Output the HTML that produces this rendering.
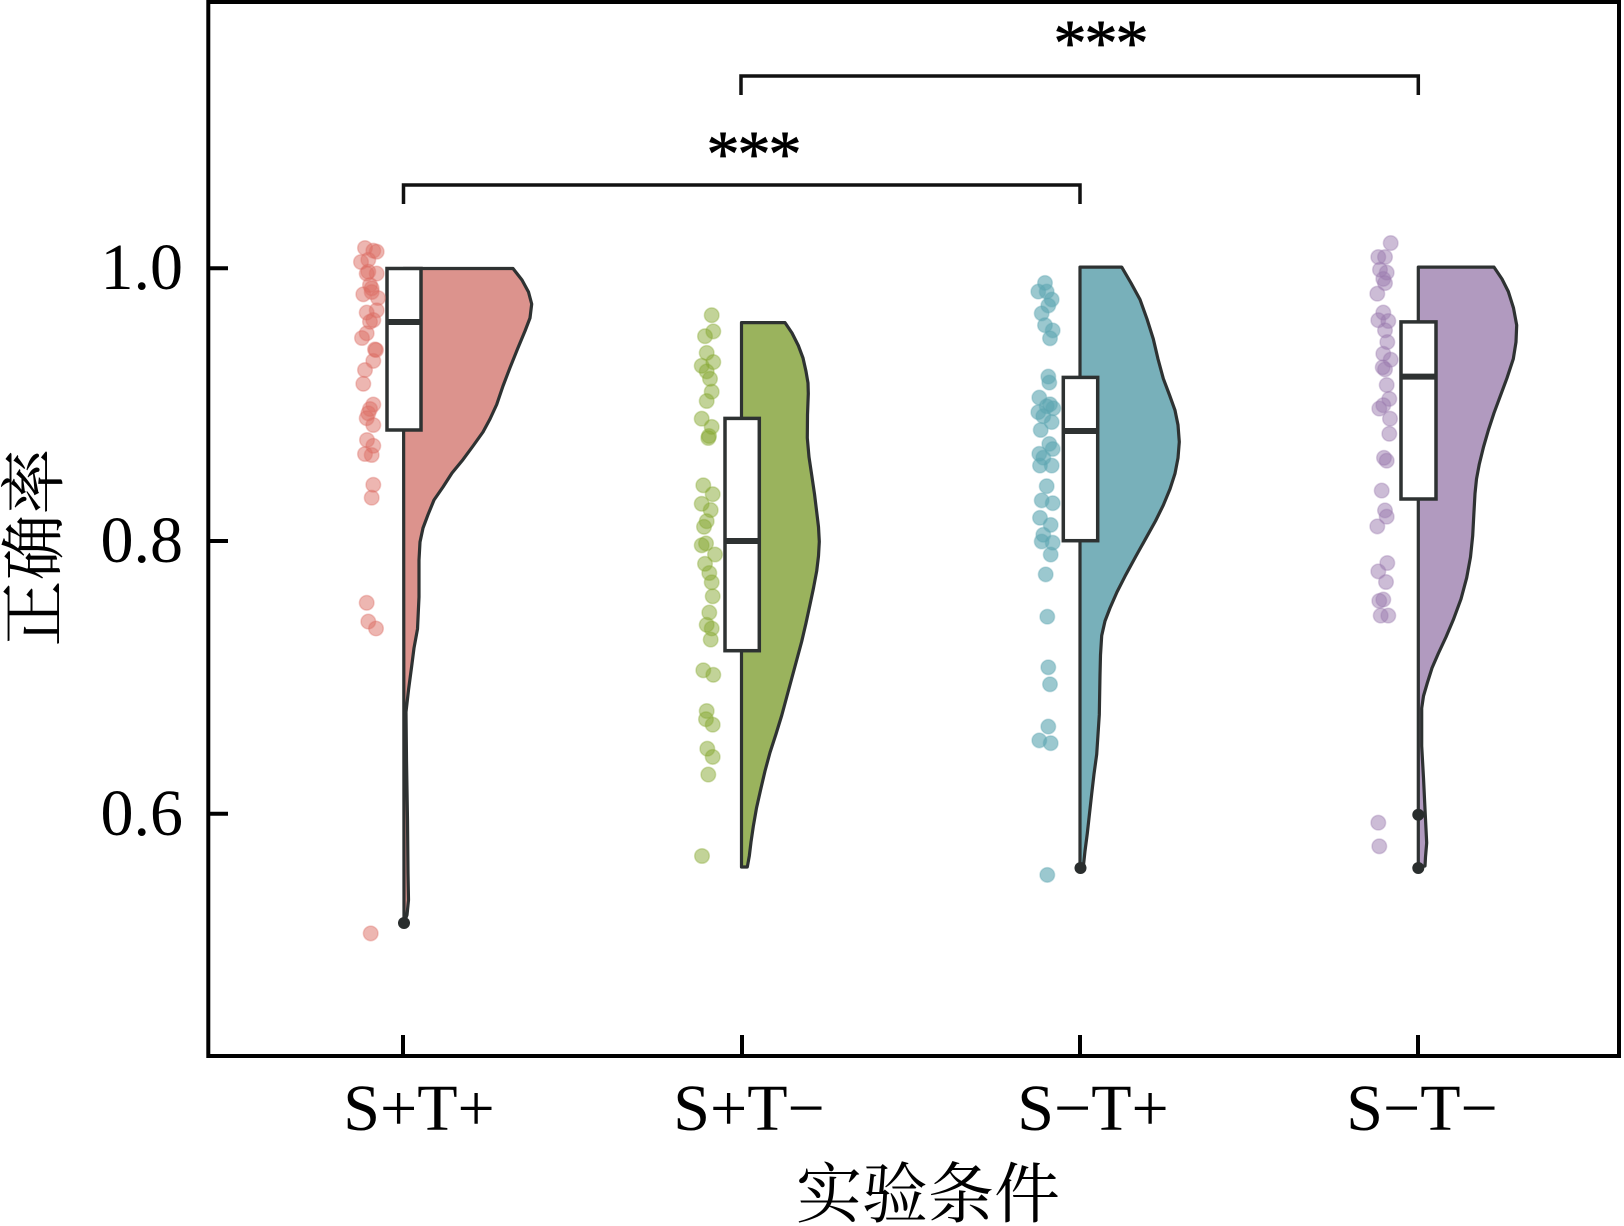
<!DOCTYPE html>
<html>
<head>
<meta charset="utf-8">
<style>
html,body{margin:0;padding:0;background:#fff;}
svg{display:block;}
</style>
</head>
<body>
<svg width="1624" height="1226" viewBox="0 0 1624 1226" xmlns="http://www.w3.org/2000/svg">
<rect x="0" y="0" width="1624" height="1226" fill="#fff"/>

<!-- significance brackets -->
<g stroke="#111" stroke-width="3.5" fill="none">
  <polyline points="403.5,204 403.5,185 1080,185 1080,204"/>
  <polyline points="741,95 741,76 1418.3,76 1418.3,95"/>
</g>
<g font-family="'Liberation Serif', serif" font-size="66" fill="#000" stroke="#000" stroke-width="0.8" text-anchor="middle">
  <text x="723" y="176">*</text><text x="754" y="176">*</text><text x="785" y="176">*</text>
  <text x="1070" y="65">*</text><text x="1101" y="65">*</text><text x="1132" y="65">*</text>
</g>

<!-- violins -->
<g stroke="#2e3232" stroke-width="3.2" stroke-linejoin="round">
  <path fill="#dc938d" d="M403.5,268.5 L513,268.5 L522,280 L528.5,292 L531.7,304 L530,318 L525,331 L517.5,349 L510,367.7 L503,386 L496.7,404.5 L490,419 L483,432 L473,446 L463,459.6 L452,473 L443,487 L434,500 L428,514.7 L423,528 L420,542 L419,560 L419,597 L417.5,629 L414,648 L411.7,666 L408.5,690 L406,712 L406.5,760 L407.5,820 L408,873 L408.5,900 L407,915 L404,923 Z"/>
  <path fill="#9ab35d" d="M741.5,322.6 L785,322.6 L792,333 L798.3,345.5 L803,358 L806,371.4 L808,383 L808.3,393.6 L807.5,415 L807.3,438 L809,457 L811.7,475 L814.5,494 L816.7,512 L818.5,527 L819.3,541.6 L818.5,556 L816.7,571 L813.5,588 L810,604.5 L806,623 L801.7,641.5 L796.7,660 L791.7,678.5 L786.7,697 L781.7,715.5 L776,734 L770,752.5 L765,771 L760.7,789.4 L756.5,808 L753.3,826.4 L751,842 L749.3,856 L747.3,867 L741.5,867 Z"/>
  <path fill="#78b0ba" d="M1080,267.1 L1121.7,267.1 L1131,283 L1140,299.5 L1147,319 L1153.3,339 L1158,359 L1163.3,378.6 L1169.5,395 L1175,410.3 L1178,425 L1179.3,441.9 L1178,458 L1175,473.5 L1170,489 L1163.3,505.2 L1155.5,521 L1146.7,536.8 L1136,556 L1125,576.3 L1117,592 L1110,608 L1105,621 L1101.7,635.6 L1100.5,655 L1100,675.2 L1099.3,714.7 L1096.7,754.3 L1094,774 L1091.7,793.8 L1087.3,833.4 L1085,851 L1083.3,867 L1080,868 Z"/>
  <path fill="#b19abf" d="M1418.3,267.1 L1494,267.1 L1502,279 L1508.3,291.5 L1513.5,308 L1516.7,325.2 L1516,342 L1513.3,358.9 L1507,378 L1500,396.8 L1494,413 L1488.3,430.4 L1483.5,447 L1479.3,464.1 L1476.5,479 L1475,493.6 L1473.8,515 L1472.7,535.7 L1470.5,557 L1466.7,577.7 L1461,599 L1453.3,619.8 L1446,637 L1438.3,653.5 L1432,668 L1427.3,683 L1423.5,696 L1421.7,708.2 L1421.7,746.1 L1423.5,778 L1425,809.2 L1426.7,842.9 L1425.5,857 L1425,866 L1418.3,867 Z"/>
</g>

<!-- boxes -->
<g fill="#fff" stroke="#2e3232" stroke-width="3.5">
  <rect x="387" y="268.5" width="34" height="161.5"/>
  <rect x="725" y="418.4" width="34.3" height="232.3"/>
  <rect x="1063.3" y="377.4" width="34.4" height="163.3"/>
  <rect x="1401" y="321.9" width="35" height="177.1"/>
</g>
<g stroke="#2e3232" stroke-width="6">
  <line x1="387" y1="322" x2="421" y2="322"/>
  <line x1="725" y1="541" x2="759.3" y2="541"/>
  <line x1="1063.3" y1="431" x2="1097.7" y2="431"/>
  <line x1="1401" y1="376.6" x2="1436" y2="376.6"/>
</g>
<!-- outlier dots -->
<g fill="#2a2e2e">
  <circle cx="404" cy="923" r="6"/>
  <circle cx="1080.5" cy="868" r="6"/>
  <circle cx="1418.3" cy="814.7" r="6"/>
  <circle cx="1418.3" cy="868" r="6"/>
</g>

<!-- red points -->
<g fill="#dc6e64" fill-opacity="0.5" stroke="#dc6e64" stroke-opacity="0.35" stroke-width="1.5">
<circle cx="365" cy="248" r="7.3"/><circle cx="373.3" cy="250.7" r="7.3"/><circle cx="368.3" cy="259.8" r="7.3"/><circle cx="376.7" cy="273.6" r="7.3"/><circle cx="366.7" cy="273.6" r="7.3"/><circle cx="370" cy="285" r="7.3"/><circle cx="363.3" cy="294.3" r="7.3"/><circle cx="371.7" cy="292" r="7.3"/><circle cx="366.7" cy="312.6" r="7.3"/><circle cx="376.7" cy="310.3" r="7.3"/><circle cx="370" cy="321.8" r="7.3"/><circle cx="366.7" cy="333.3" r="7.3"/><circle cx="375" cy="349.4" r="7.3"/><circle cx="373.3" cy="360.9" r="7.3"/><circle cx="365" cy="370" r="7.3"/><circle cx="363.3" cy="383.8" r="7.3"/><circle cx="373.3" cy="404.5" r="7.3"/><circle cx="370" cy="409" r="7.3"/><circle cx="366.7" cy="418.2" r="7.3"/><circle cx="373.3" cy="425" r="7.3"/><circle cx="365" cy="454" r="7.3"/><circle cx="373.3" cy="445.8" r="7.3"/><circle cx="371.7" cy="455" r="7.3"/><circle cx="373.3" cy="484.8" r="7.3"/><circle cx="371.7" cy="497.7" r="7.3"/><circle cx="366.7" cy="602.8" r="7.3"/><circle cx="368.3" cy="621.6" r="7.3"/><circle cx="376" cy="628.5" r="7.3"/><circle cx="370.7" cy="933.4" r="7.3"/>
<circle cx="376.7" cy="251.7" r="7.3"/><circle cx="368.3" cy="271.7" r="7.3"/><circle cx="371.7" cy="288.3" r="7.3"/><circle cx="373.3" cy="320" r="7.3"/><circle cx="376" cy="350" r="7.3"/><circle cx="368.3" cy="413.3" r="7.3"/><circle cx="361" cy="262" r="7.3"/><circle cx="378" cy="298" r="7.3"/><circle cx="362" cy="338" r="7.3"/><circle cx="367" cy="440" r="7.3"/>
</g>

<!-- green points -->
<g fill="#86a832" fill-opacity="0.5" stroke="#86a832" stroke-opacity="0.35" stroke-width="1.5">
<circle cx="711.7" cy="315.2" r="7.3"/><circle cx="713.3" cy="331.4" r="7.3"/><circle cx="705" cy="336.2" r="7.3"/><circle cx="706.7" cy="352.9" r="7.3"/><circle cx="713.3" cy="362.1" r="7.3"/><circle cx="701.7" cy="365.8" r="7.3"/><circle cx="706.7" cy="371.4" r="7.3"/><circle cx="710" cy="378.8" r="7.3"/><circle cx="711.7" cy="391.7" r="7.3"/><circle cx="706.7" cy="401" r="7.3"/><circle cx="701.7" cy="418.7" r="7.3"/><circle cx="711.7" cy="426.9" r="7.3"/><circle cx="708.3" cy="438" r="7.3"/><circle cx="709" cy="436" r="7.3"/><circle cx="703.3" cy="485.3" r="7.3"/><circle cx="712.7" cy="494.2" r="7.3"/><circle cx="701.7" cy="503.8" r="7.3"/><circle cx="710.7" cy="510.1" r="7.3"/><circle cx="706.7" cy="521.2" r="7.3"/><circle cx="704" cy="526.8" r="7.3"/><circle cx="701.7" cy="545.3" r="7.3"/><circle cx="706" cy="543.4" r="7.3"/><circle cx="715" cy="554.5" r="7.3"/><circle cx="705" cy="563.8" r="7.3"/><circle cx="709.3" cy="573" r="7.3"/><circle cx="711.7" cy="582.3" r="7.3"/><circle cx="712.7" cy="596.3" r="7.3"/><circle cx="709.3" cy="612.6" r="7.3"/><circle cx="706.7" cy="624.8" r="7.3"/><circle cx="711.7" cy="628.5" r="7.3"/><circle cx="710.7" cy="639.6" r="7.3"/><circle cx="703.3" cy="670.3" r="7.3"/><circle cx="713.3" cy="674.8" r="7.3"/><circle cx="706.7" cy="711" r="7.3"/><circle cx="706" cy="719.2" r="7.3"/><circle cx="712.7" cy="724.7" r="7.3"/><circle cx="707.3" cy="748.7" r="7.3"/><circle cx="712.7" cy="756.9" r="7.3"/><circle cx="708.3" cy="774.6" r="7.3"/><circle cx="702" cy="856" r="7.3"/>
</g>

<!-- teal points -->
<g fill="#5ea6b2" fill-opacity="0.62" stroke="#5ea6b2" stroke-opacity="0.35" stroke-width="1.5">
<circle cx="1045" cy="282.9" r="7.3"/><circle cx="1038.3" cy="291.6" r="7.3"/><circle cx="1046.7" cy="291.6" r="7.3"/><circle cx="1051.7" cy="299.5" r="7.3"/><circle cx="1048.3" cy="305.5" r="7.3"/><circle cx="1041.7" cy="313.4" r="7.3"/><circle cx="1045" cy="325.2" r="7.3"/><circle cx="1052.7" cy="330.4" r="7.3"/><circle cx="1050" cy="338.3" r="7.3"/><circle cx="1048.3" cy="376.6" r="7.3"/><circle cx="1049.3" cy="382.6" r="7.3"/><circle cx="1039.3" cy="397.6" r="7.3"/><circle cx="1050" cy="404.3" r="7.3"/><circle cx="1046.7" cy="406.3" r="7.3"/><circle cx="1038.3" cy="412.2" r="7.3"/><circle cx="1053.3" cy="408.3" r="7.3"/><circle cx="1043.3" cy="416.2" r="7.3"/><circle cx="1051.7" cy="422.1" r="7.3"/><circle cx="1040.7" cy="430" r="7.3"/><circle cx="1049.3" cy="443.9" r="7.3"/><circle cx="1052.7" cy="449" r="7.3"/><circle cx="1039.3" cy="453.8" r="7.3"/><circle cx="1043.3" cy="457.7" r="7.3"/><circle cx="1040" cy="465.6" r="7.3"/><circle cx="1051.7" cy="465.6" r="7.3"/><circle cx="1046.7" cy="486.2" r="7.3"/><circle cx="1041.7" cy="500.4" r="7.3"/><circle cx="1052.7" cy="503.2" r="7.3"/><circle cx="1040" cy="517.8" r="7.3"/><circle cx="1050.7" cy="524.9" r="7.3"/><circle cx="1043.3" cy="534.8" r="7.3"/><circle cx="1041.7" cy="541.5" r="7.3"/><circle cx="1052.7" cy="542.7" r="7.3"/><circle cx="1050.7" cy="554.6" r="7.3"/><circle cx="1045.7" cy="574.4" r="7.3"/><circle cx="1047.3" cy="616.7" r="7.3"/><circle cx="1048.3" cy="667.3" r="7.3"/><circle cx="1050" cy="684.3" r="7.3"/><circle cx="1048.3" cy="726.6" r="7.3"/><circle cx="1039.3" cy="740.4" r="7.3"/><circle cx="1050.7" cy="743.2" r="7.3"/><circle cx="1047.3" cy="874.9" r="7.3"/>
</g>

<!-- purple points -->
<g fill="#9a7aae" fill-opacity="0.5" stroke="#9a7aae" stroke-opacity="0.35" stroke-width="1.5">
<circle cx="1390.7" cy="243.1" r="7.3"/><circle cx="1378.3" cy="257" r="7.3"/><circle cx="1385" cy="257" r="7.3"/><circle cx="1380" cy="269.7" r="7.3"/><circle cx="1386.7" cy="272.6" r="7.3"/><circle cx="1383.3" cy="278.9" r="7.3"/><circle cx="1385" cy="283.1" r="7.3"/><circle cx="1377.3" cy="293.7" r="7.3"/><circle cx="1383.3" cy="312.6" r="7.3"/><circle cx="1378.3" cy="320.2" r="7.3"/><circle cx="1388.3" cy="321" r="7.3"/><circle cx="1385" cy="330.3" r="7.3"/><circle cx="1387.3" cy="342.1" r="7.3"/><circle cx="1383.3" cy="353.8" r="7.3"/><circle cx="1390.7" cy="359.7" r="7.3"/><circle cx="1382.7" cy="367.3" r="7.3"/><circle cx="1385" cy="369.4" r="7.3"/><circle cx="1386.7" cy="385" r="7.3"/><circle cx="1389.3" cy="398.9" r="7.3"/><circle cx="1379.3" cy="408.6" r="7.3"/><circle cx="1383.3" cy="405.2" r="7.3"/><circle cx="1390" cy="418.7" r="7.3"/><circle cx="1389.3" cy="433.8" r="7.3"/><circle cx="1384" cy="457.8" r="7.3"/><circle cx="1386.7" cy="460.7" r="7.3"/><circle cx="1381.7" cy="490.6" r="7.3"/><circle cx="1385" cy="510.4" r="7.3"/><circle cx="1386.7" cy="516.7" r="7.3"/><circle cx="1377.3" cy="526.4" r="7.3"/><circle cx="1387.3" cy="563" r="7.3"/><circle cx="1378.3" cy="571.4" r="7.3"/><circle cx="1386" cy="582" r="7.3"/><circle cx="1379.3" cy="600.9" r="7.3"/><circle cx="1383.3" cy="599.6" r="7.3"/><circle cx="1380.7" cy="615.6" r="7.3"/><circle cx="1388.3" cy="615.6" r="7.3"/><circle cx="1378.3" cy="822.7" r="7.3"/><circle cx="1379.3" cy="846.3" r="7.3"/>
</g>

<!-- frame -->
<rect x="208.3" y="2" width="1410.7" height="1054" fill="none" stroke="#000" stroke-width="4"/>
<!-- ticks -->
<g stroke="#000" stroke-width="4">
  <line x1="208" y1="268.3" x2="228" y2="268.3"/>
  <line x1="208" y1="541" x2="228" y2="541"/>
  <line x1="208" y1="813.7" x2="228" y2="813.7"/>
  <line x1="403" y1="1035" x2="403" y2="1056"/>
  <line x1="742" y1="1035" x2="742" y2="1056"/>
  <line x1="1080" y1="1035" x2="1080" y2="1056"/>
  <line x1="1418" y1="1035" x2="1418" y2="1056"/>
</g>

<!-- tick labels -->
<g font-family="'Liberation Serif', serif" font-size="66" fill="#000">
  <text x="183" y="289" text-anchor="end">1.0</text>
  <text x="183" y="562" text-anchor="end">0.8</text>
  <text x="183" y="835" text-anchor="end">0.6</text>
  <text x="419" y="1130" text-anchor="middle">S+T+</text>
  <text x="749" y="1130" text-anchor="middle">S+T−</text>
  <text x="1093" y="1130" text-anchor="middle">S−T+</text>
  <text x="1422" y="1130" text-anchor="middle">S−T−</text>
</g>

<!-- axis titles -->
<text x="928" y="1217" text-anchor="middle" font-family="'Liberation Serif', 'Noto Serif CJK SC', serif" font-size="66" fill="#000">实验条件</text>
<text transform="translate(57,547.5) rotate(-90)" x="0" y="0" text-anchor="middle" font-family="'Liberation Serif', 'Noto Serif CJK SC', serif" font-size="66" fill="#000">正确率</text>
</svg>
</body>
</html>
